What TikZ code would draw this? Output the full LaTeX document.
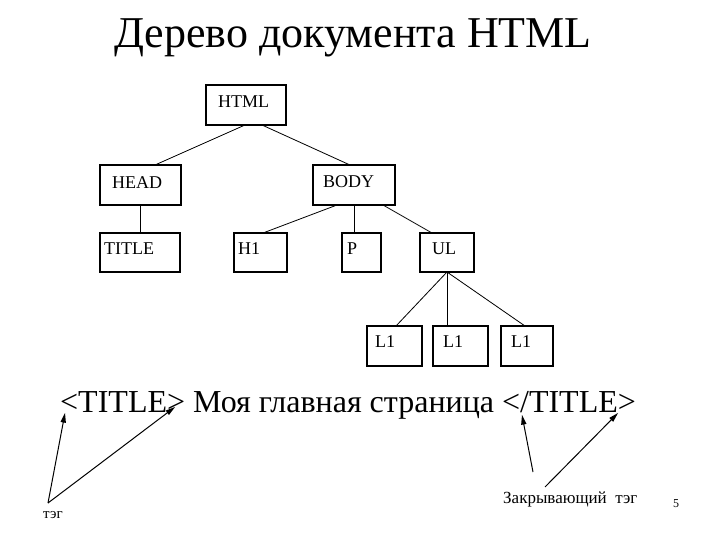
\documentclass[tikz,border=0pt]{standalone}
\usepackage{fontspec}
\setmainfont{Liberation Serif}
\newfontfamily\tnr{Liberation Serif}
\usetikzlibrary{calc}
\begin{document}
\begin{tikzpicture}[x=1pt,y=-1pt,
  tbox/.style={draw,line width=1.3pt},
  lbl/.style={anchor=west,inner sep=0pt,font=\tnr\fontsize{18}{18}\selectfont},
  conn/.style={line width=0.8pt},
  arr/.style={line width=1pt},
  head/.style={fill=black}]
\useasboundingbox (0,0) rectangle (720,540);
% title
\node[font=\tnr\fontsize{44}{44}\selectfont] (title) at (353,38) {Дерево документа HTML};
% boxes
\draw[tbox] (206,85) rectangle (286,125);   \node[lbl] (thtml) at (218,102) {HTML};
\draw[tbox] (100,165) rectangle (181,205);  \node[lbl] (thead) at (112,183) {HEAD};
\draw[tbox] (313,165) rectangle (395,205);  \node[lbl] (tbody) at (323,182) {BODY};
\draw[tbox] (100,233) rectangle (180,272);  \node[lbl] (ttitle) at (104,249) {TITLE};
\draw[tbox] (234,233) rectangle (287,272);  \node[lbl] (th1) at (238,249) {H1};
\draw[tbox] (342,233) rectangle (381,272);  \node[lbl] (tp) at (347,249) {P};
\draw[tbox] (420,233) rectangle (474,272);  \node[lbl] (tul) at (432,249) {UL};
\draw[tbox] (367,326) rectangle (422,366);  \node[lbl] (tl1) at (375,342) {L1};
\draw[tbox] (433,326) rectangle (488,366);  \node[lbl] (tl2) at (443,342) {L1};
\draw[tbox] (501,326) rectangle (553,366);  \node[lbl] (tl3) at (511,342) {L1};
% connector anchor points
\coordinate (htmlA) at (245,125); \coordinate (headT) at (155,165);
\coordinate (htmlB) at (262,125); \coordinate (bodyT) at (350,165);
\coordinate (headB) at (140,205); \coordinate (titleT) at (140,233);
\coordinate (bodyA) at (337,205); \coordinate (h1T) at (263,233);
\coordinate (bodyB) at (354,205); \coordinate (pT) at (354,233);
\coordinate (bodyC) at (383,205); \coordinate (ulT) at (432,233);
\coordinate (ulB) at (447,272);
\coordinate (l1T) at (396,326); \coordinate (l2T) at (447,326); \coordinate (l3T) at (525,326);
\draw[conn] (htmlA) -- (headT);
\draw[conn] (htmlB) -- (bodyT);
\draw[conn] (headB) -- (titleT);
\draw[conn] (bodyA) -- (h1T);
\draw[conn] (bodyB) -- (pT);
\draw[conn] (bodyC) -- (ulT);
\draw[conn] (ulB) -- (l1T);
\draw[conn] (ulB) -- (l2T);
\draw[conn] (ulB) -- (l3T);
% bottom text
\node[font=\tnr\fontsize{32}{32}\selectfont,anchor=base west,inner sep=0pt] (line) at (60,412) {<TITLE> Моя главная страница </TITLE>};
\node[font=\tnr\fontsize{15}{15}\selectfont,anchor=west,inner sep=0pt] (tag) at (43,515) {тэг};
\node[font=\tnr\fontsize{17}{17}\selectfont,anchor=west,inner sep=0pt] (close) at (503,499) {Закрывающий\ \ тэг};
\node[font=\tnr\fontsize{12}{12}\selectfont] (num) at (676,504) {5};
\coordinate (a1t) at (48,503); \coordinate (a1h) at (65,413);
\coordinate (a2h) at (175,407);
\coordinate (a3t) at (533,472); \coordinate (a3h) at (522,415);
\coordinate (a4t) at (545,487); \coordinate (a4h) at (618,413);
\draw[arr] (a1t) -- ($(a1h)!6pt!(a1t)$);
\draw[arr] (a1t) -- ($(a2h)!6pt!(a1t)$);
\draw[arr] (a3t) -- ($(a3h)!6pt!(a3t)$);
\draw[arr] (a4t) -- ($(a4h)!6pt!(a4t)$);
\fill[head] (a1h) -- ($(a1h)!10pt!16:(a1t)$) -- ($(a1h)!10pt!-16:(a1t)$) -- cycle;
\fill[head] (a2h) -- ($(a2h)!10pt!16:(a1t)$) -- ($(a2h)!10pt!-16:(a1t)$) -- cycle;
\fill[head] (a3h) -- ($(a3h)!10pt!16:(a3t)$) -- ($(a3h)!10pt!-16:(a3t)$) -- cycle;
\fill[head] (a4h) -- ($(a4h)!10pt!16:(a4t)$) -- ($(a4h)!10pt!-16:(a4t)$) -- cycle;
\end{tikzpicture}
\end{document}
